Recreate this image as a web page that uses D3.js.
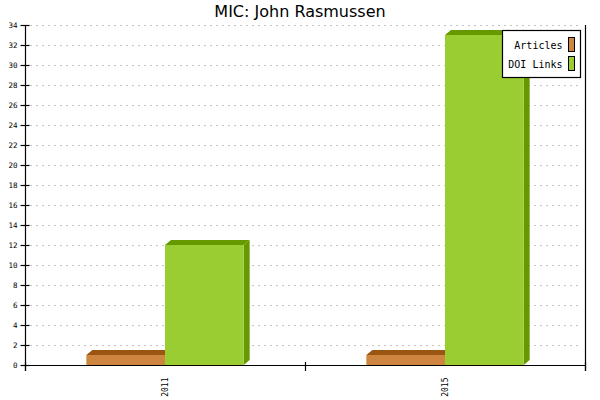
<!DOCTYPE html>
<html>
<head>
<meta charset="utf-8">
<script src="https://cdn.jsdelivr.net/npm/d3@7"></script>
<style>
  body { margin: 0; background: #fff; }
  svg { display: block; }
</style>
</head>
<body>
<div id="chart"></div>
<script>
'use strict';

// data
var years = ['2011', '2015']
var seriesNames = ['Articles', 'DOI Links']
var articles = [1, 1]
var doiLinks = [12, 33]
var yTicks = [0, 2, 4, 6, 8, 10, 12, 14, 16, 18, 20, 22, 24, 26, 28, 30, 32, 34]

var colors = {
  'Articles': { front: '#cd853f', dark: '#9b5513' },
  'DOI Links': { front: '#9acd32', dark: '#669900' }
}

var width = 600, height = 400
var margin = { top: 25, right: 15, bottom: 35, left: 25 }
var depthX = 6, depthY = 5

var svg = d3.select('#chart').append('svg')
    .attr('width', width)
    .attr('height', height)

var x = d3.scaleBand()
    .domain(years)
    .range([margin.left, width - margin.right])

var xInner = d3.scaleBand()
    .domain(seriesNames)
    .range([0, x.bandwidth()])
    .paddingOuter(0.78)

var y = d3.scaleLinear()
    .domain([0, 34])
    .range([height - margin.bottom, margin.top])

// grid
svg.append('g').selectAll('line')
    .data(yTicks.filter(function(d){ return d > 0 }))
  .enter().append('line')
    .attr('x1', margin.left + 5)
    .attr('x2', width - margin.right - 4)
    .attr('y1', function(d){ return Math.round(y(d)) + 0.5 })
    .attr('y2', function(d){ return Math.round(y(d)) + 0.5 })
    .attr('stroke', '#c4c4c4')
    .attr('stroke-dasharray', '2,4')

// bars
var rows = years.map(function(yr, i){
  return { year: yr, values: [
    { name: 'Articles', val: articles[i] },
    { name: 'DOI Links', val: doiLinks[i] }
  ] }
})

var groups = svg.append('g').selectAll('g')
    .data(rows)
  .enter().append('g')
    .attr('transform', function(d){ return 'translate(' + x(d.year) + ',0)' })

groups.each(function(row){
  var g = d3.select(this)
  row.values.forEach(function(v){
    var x0 = xInner(v.name), x1 = x0 + xInner.bandwidth()
    var yT = y(v.val), yB = y(0)
    var c = colors[v.name]
    // side face
    g.append('polygon')
      .attr('points', [[x1, yT], [x1 + depthX, yT - depthY], [x1 + depthX, yB - depthY], [x1, yB]].join(' '))
      .attr('fill', c.dark)
    // top face
    g.append('polygon')
      .attr('points', [[x0, yT], [x0 + depthX, yT - depthY], [x1 + depthX, yT - depthY], [x1, yT]].join(' '))
      .attr('fill', c.dark)
    // front
    g.append('rect')
      .attr('x', x0)
      .attr('y', yT)
      .attr('width', x1 - x0)
      .attr('height', yB - yT)
      .attr('fill', c.front)
  })
})

// y axis
var yAxis = d3.axisLeft(y)
    .tickValues(yTicks)
    .tickSize(5)
    .tickFormat(d3.format('d'))

var gy = svg.append('g')
    .attr('transform', 'translate(' + (margin.left + 0.5) + ',0)')
    .call(yAxis)
gy.select('.domain').remove()
gy.selectAll('.tick line').attr('x1', 4).attr('stroke', '#000').attr('stroke-width', 1.2)
gy.selectAll('.tick text')
    .attr('x', -8)
    .style('font-family', 'DejaVu Sans Mono')
    .style('font-size', '7.5px')
    .attr('fill', '#000')

// x axis
var xAxis = d3.axisBottom(x).tickSize(0)
var gx = svg.append('g')
    .attr('transform', 'translate(0,' + (y(0) + 0.5) + ')')
    .call(xAxis)
gx.select('.domain').remove()
gx.selectAll('.tick text')
    .attr('transform', 'rotate(-90)')
    .attr('x', -12)
    .attr('y', 0)
    .attr('dy', '0.35em')
    .style('text-anchor', 'end')
    .style('font-family', 'DejaVu Sans Mono')
    .style('font-size', '8px')
    .attr('fill', '#000')

var boundaries = [x.range()[0]].concat(years.map(function(d){ return x(d) + x.bandwidth() }))
svg.append('g').selectAll('line')
    .data(boundaries)
  .enter().append('line')
    .attr('x1', function(d){ return d + 0.5 })
    .attr('x2', function(d){ return d + 0.5 })
    .attr('y1', y(0) - 3)
    .attr('y2', y(0) + 6)
    .attr('stroke', '#000')
    .attr('stroke-width', 1.2)

// axis lines
svg.append('line')
    .attr('x1', margin.left + 0.5).attr('x2', margin.left + 0.5)
    .attr('y1', y(34)).attr('y2', y(0) + 6)
    .attr('stroke', '#000').attr('stroke-width', 1.2)
svg.append('line')
    .attr('x1', width - margin.right + 0.5).attr('x2', width - margin.right + 0.5)
    .attr('y1', y(34)).attr('y2', y(0) + 6)
    .attr('stroke', '#000').attr('stroke-width', 1.2)
svg.append('line')
    .attr('x1', margin.left).attr('x2', width - margin.right)
    .attr('y1', y(0) + 0.5).attr('y2', y(0) + 0.5)
    .attr('stroke', '#000').attr('stroke-width', 1.2)

// title
svg.append('text')
    .attr('x', width / 2)
    .attr('y', 17)
    .attr('text-anchor', 'middle')
    .style('font-family', 'DejaVu Sans')
    .style('font-size', '16px')
    .text('MIC: John Rasmussen')

// legend
var legend = svg.append('g').attr('transform', 'translate(502.5,30.5)')
legend.append('rect')
    .attr('width', 78)
    .attr('height', 47)
    .attr('fill', '#fff')
    .attr('stroke', '#000')
    .attr('stroke-width', 1.2)

var items = legend.selectAll('g.item')
    .data(seriesNames)
  .enter().append('g')
    .attr('class', 'item')
    .attr('transform', function(d, i){ return 'translate(0,' + (i * 19) + ')' })
items.append('text')
    .attr('x', 60)
    .attr('y', 18)
    .attr('text-anchor', 'end')
    .style('font-family', 'DejaVu Sans Mono')
    .style('font-size', '10px')
    .text(function(d){ return d })
items.append('rect')
    .attr('x', 66)
    .attr('y', 7)
    .attr('width', 6)
    .attr('height', 14)
    .attr('fill', function(d){ return colors[d].front })
    .attr('stroke', '#000')
</script>
</body>
</html>
